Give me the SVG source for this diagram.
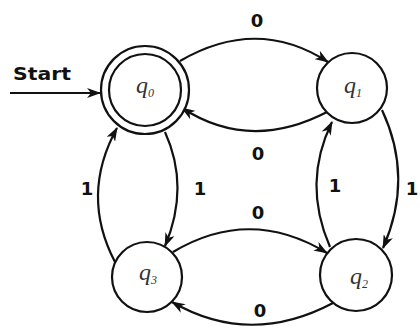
<svg xmlns="http://www.w3.org/2000/svg" width="420" height="329" viewBox="0 0 420 329">
<defs>
<style>
.st{fill:#fff;stroke:#111;stroke-width:2.2}
.e{fill:none;stroke:#111;stroke-width:2.2;marker-end:url(#ah)}
.lb{font-family:"DejaVu Sans",sans-serif;font-weight:bold;font-size:18px;fill:#111;text-anchor:middle}
.q{font-family:"Liberation Serif",serif;font-style:italic;font-size:24px;fill:#333;text-anchor:middle}
.sub{font-size:12px}
</style>
<marker id="ah" markerUnits="userSpaceOnUse" markerWidth="14" markerHeight="10" refX="13" refY="5" orient="auto">
<path d="M0,0 L14,5 L0,10 L4,5 Z" fill="#111"/>
</marker>
</defs>
<rect width="420" height="329" fill="#fff"/>
<g id="connectors">
<path class="e" d="M10,93 L100,93"/>
<path class="e" d="M180,61 Q257,16 328,62"/>
<path class="e" d="M327,112 Q250,152 182,108"/>
<path class="e" d="M173,252 Q250,206 327,253"/>
<path class="e" d="M333,303 Q250,347 172,302"/>
<path class="e" d="M115,262 Q80,195 117,128"/>
<path class="e" d="M165,132 Q190,187 165,246"/>
<path class="e" d="M330,247 Q302,183 332,122"/>
<path class="e" d="M382,110 Q414,178 383,248"/>
<text class="lb" x="42" y="80" textLength="58" lengthAdjust="spacingAndGlyphs">Start</text>
<text class="lb" x="257" y="27">0</text>
<text class="lb" x="258" y="160">0</text>
<text class="lb" x="258" y="219">0</text>
<text class="lb" x="260" y="317">0</text>
<text class="lb" x="87" y="195">1</text>
<text class="lb" x="200" y="195">1</text>
<text class="lb" x="335" y="192">1</text>
<text class="lb" x="412" y="195">1</text>
</g>
<g id="q0">
<circle class="st" cx="145" cy="90" r="44"/>
<circle class="st" cx="145" cy="90" r="36"/>
<text class="q" x="145" y="93">q<tspan class="sub" dy="4">0</tspan></text>
</g>
<g id="q1">
<circle class="st" cx="352" cy="88" r="35"/>
<text class="q" x="353" y="93">q<tspan class="sub" dy="4">1</tspan></text>
</g>
<g id="q3">
<circle class="st" cx="147" cy="277" r="35"/>
<text class="q" x="148" y="280">q<tspan class="sub" dy="4">3</tspan></text>
</g>
<g id="q2">
<circle class="st" cx="356" cy="275" r="36"/>
<text class="q" x="359" y="284">q<tspan class="sub" dy="4">2</tspan></text>
</g>
</svg>
